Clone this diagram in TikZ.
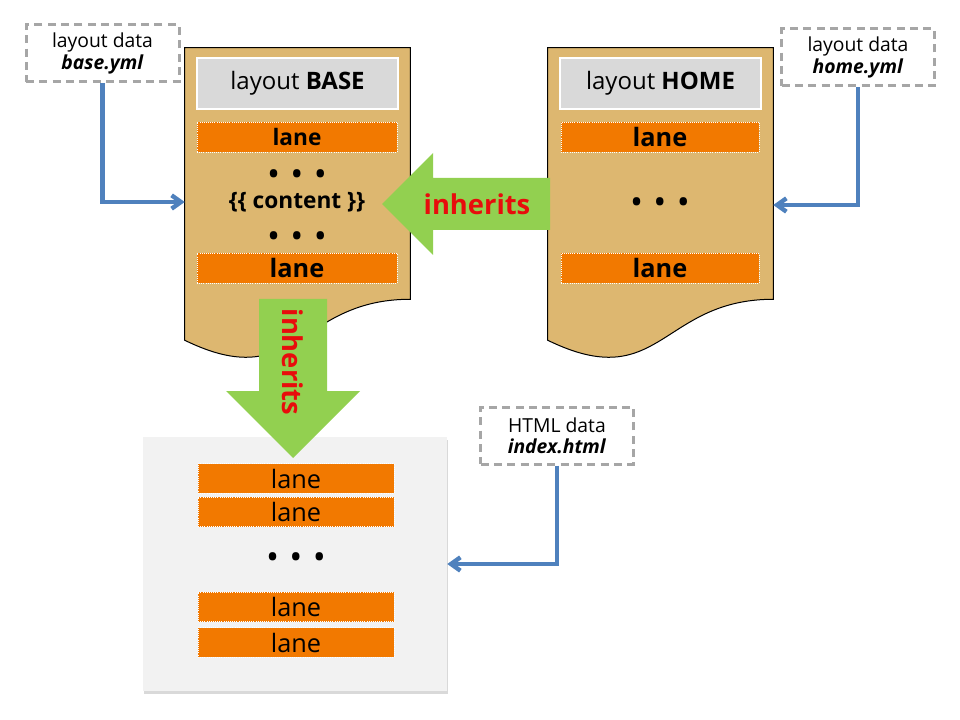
\documentclass[tikz,border=0pt]{standalone}
\usepackage{fontspec}
\setmainfont{Open Sans}
\usetikzlibrary{calc,arrows.meta,shadows}

\definecolor{doctan}{RGB}{221,183,112}
\definecolor{titlegray}{RGB}{217,217,217}
\definecolor{laneorange}{RGB}{242,121,0}
\definecolor{pagegray}{RGB}{242,242,242}
\definecolor{dashgray}{RGB}{166,166,166}
\definecolor{linkblue}{RGB}{79,129,189}
\definecolor{arrowgreen}{RGB}{146,208,80}
\definecolor{inhred}{RGB}{232,12,12}

\newcommand{\lanedots}{•\hspace{10pt}•\hspace{10pt}•}

\begin{document}
\begin{tikzpicture}[x=0.75pt,y=-0.75pt,
    doc/.style={minimum width=168.75pt,minimum height=234.75pt,inner sep=0pt},
    docline/.style={draw=black,line width=0.75pt,fill=doctan},
    title/.style={fill=titlegray,draw=white,line width=1.5pt,minimum width=150.75pt,
      minimum height=38.25pt,inner sep=0pt,font=\fontsize{18}{20}\selectfont},
    lane/.style={fill=laneorange,draw=white,densely dotted,line width=0.6pt,
      minimum width=150pt,minimum height=22.5pt,inner sep=0pt},
    data/.style={draw=dashgray,line width=2.25pt,dash pattern=on 6pt off 4pt,
      minimum width=114.75pt,minimum height=42.75pt,inner sep=0pt,align=center,
      font=\fontsize{14.5}{16}\selectfont},
    link/.style={draw=linkblue,line width=3.3pt,-{Straight Barb[length=7pt,width=10pt]}},
    inh/.style={fill=arrowgreen},
    inhtext/.style={text=inhred,font=\bfseries\fontsize{20.5}{22}\selectfont},
    dots/.style={font=\bfseries\fontsize{20}{22}\selectfont}]
  \useasboundingbox (0,0) rectangle (960,720);

  % layout documents
  \node[doc] (base) at (297.5,204.5) {};
  \node[doc] (home) at (660.5,204.5) {};
  \foreach \d in {base,home}
    \draw[docline] (\d.north west) -- (\d.north east) -- ($(\d.south east)+(0,-62)$)
      .. controls ($(\d.south)+(0,-62)$) and ($(\d.south)+(0,34)$) .. ($(\d.south west)+(0,-21)$)
      -- cycle;

  % resulting page
  \node[fill=pagegray,minimum width=228pt,minimum height=190.5pt,
    drop shadow={shadow xshift=0.5pt,shadow yshift=-2pt,opacity=0.3}] (page) at (295,564) {};

  \node[title] (btitle) at (297.5,83.5) {layout \textbf{BASE}};
  \node[lane,font=\bfseries\fontsize{17}{20}\selectfont] (blane1) at (297,137) {lane};
  \node[dots] (bdots1) at (297,177) {\lanedots};
  \node[font=\bfseries\fontsize{17}{20}\selectfont] (content) at (297,202) {\{\{ content \}\}};
  \node[dots] (bdots2) at (297,239) {\lanedots};
  \node[lane,font=\bfseries\fontsize{19}{20}\selectfont] (blane2) at (297,268.5) {lane};

  \node[title] (htitle) at (660.5,83.5) {layout \textbf{HOME}};
  \node[lane,minimum width=148.5pt,font=\bfseries\fontsize{19}{20}\selectfont] (hlane1) at (660,137) {lane};
  \node[dots] (hdots) at (660,205) {\lanedots};
  \node[lane,minimum width=148.5pt,font=\bfseries\fontsize{19}{20}\selectfont] (hlane2) at (660,268.5) {lane};

  \foreach \n/\y in {1/478.5,2/512,3/607,4/642.5}
    \node[lane,minimum width=147pt,minimum height=22pt,font=\fontsize{19}{20}\selectfont]
      (plane\n) at (296,\y) {lane};
  \node[dots] (pdots) at (296,560) {\lanedots};

  % data files
  \node[data] (ybase) at (102.5,53.5) {layout data\\\textbf{\textit{base.yml}}};
  \node[data] (yhome) at (858,57.5) {layout data\\\textbf{\textit{home.yml}}};
  \node[data] (html) at (557,435.5) {HTML data\\\textbf{\textit{index.html}}};

  \draw[link] (ybase.south) |- (base.west |- content);
  \draw[link] (yhome.south) |- (home.east |- hdots);
  \draw[link] (html.south) |- (page.east);

  % inheritance
  \fill[inh] (550,178) -- (433,178) -- (433,153) -- (382,204) -- (433,255) -- (433,230)
    -- (550,230) -- cycle;
  \node[inhtext] (inhh) at (477,204) {inherits};
  \fill[inh] (259,299) -- (327,299) -- (327,391) -- (360,391) -- (293,458) -- (226,391)
    -- (259,391) -- cycle;
  \node[inhtext,rotate=-90] (inhv) at (293,362) {inherits};
\end{tikzpicture}
\end{document}
